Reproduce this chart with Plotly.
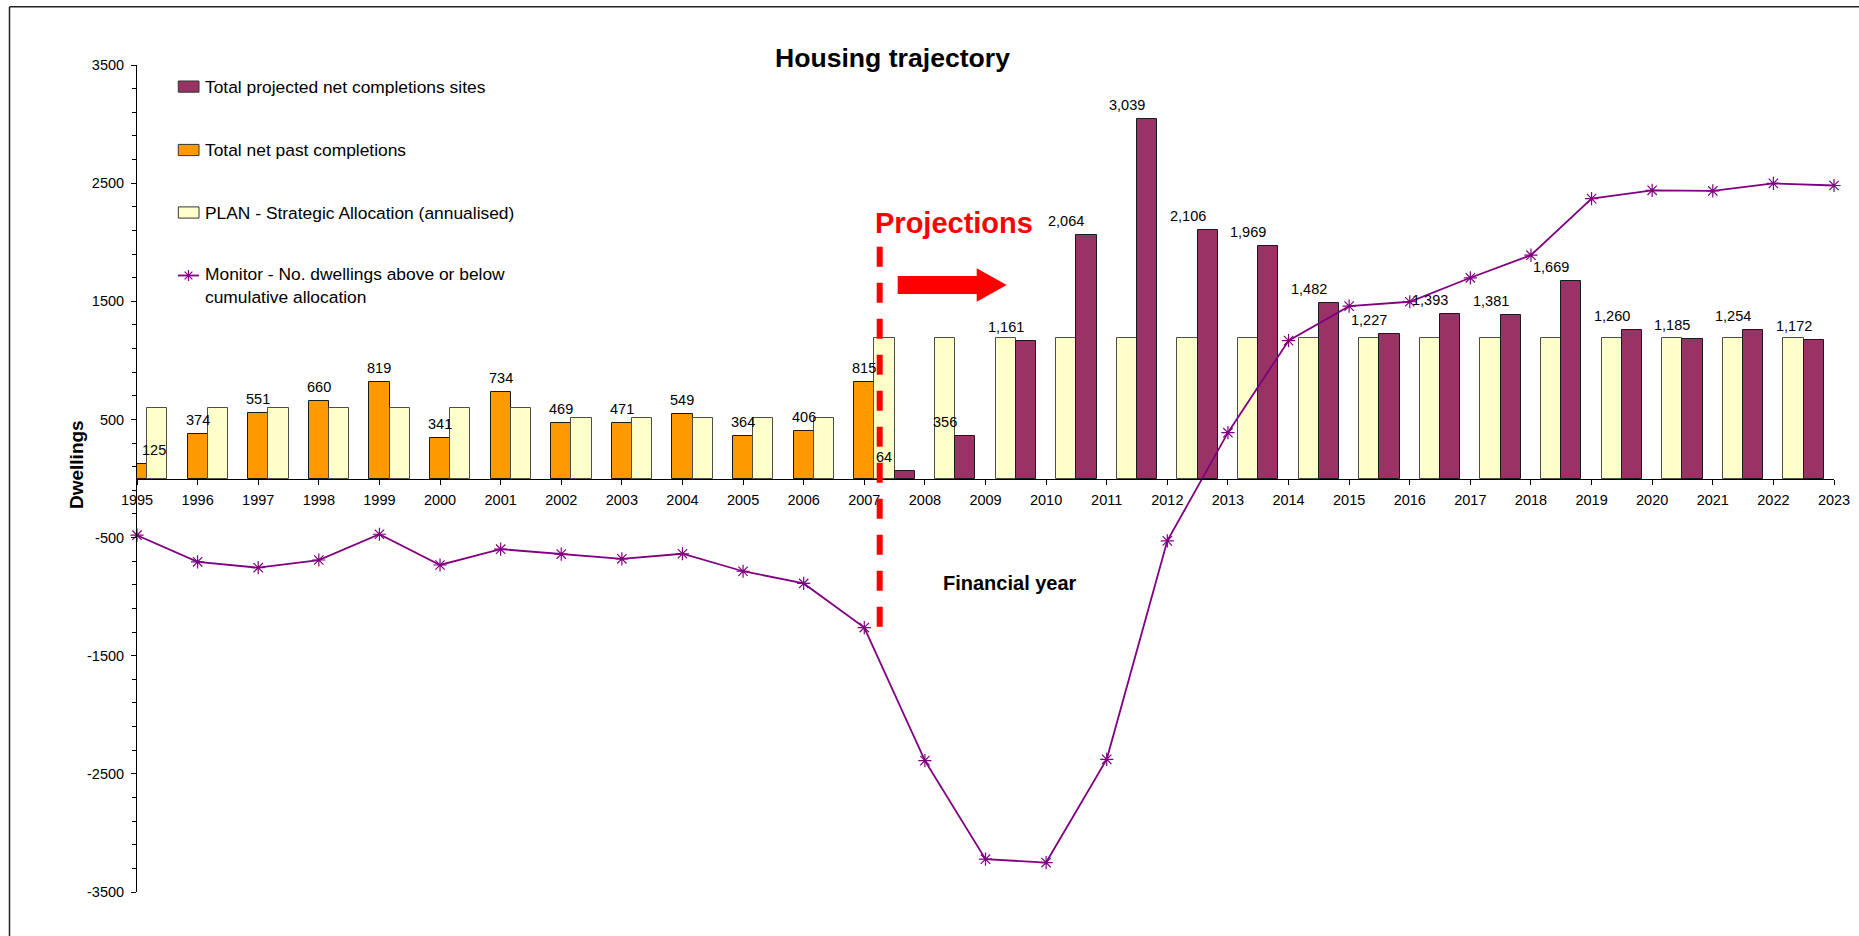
import plotly.graph_objects as go

# ---- data -------------------------------------------------------------
years = list(range(1995, 2023))            # bar categories (financial years)
monitor_years = list(range(1995, 2024))    # monitor is plotted on every tick
tick_years = list(range(1995, 2024))
y_ticks = [-3500, -2500, -1500, -500, 500, 1500, 2500, 3500]

past_completions = [125, 374, 551, 660, 819, 341, 734, 469, 471, 549, 364, 406, 815,
                    None, None, None, None, None, None, None, None, None, None, None,
                    None, None, None, None]

plan_allocation = [600, 600, 600, 600, 600, 600, 600, 510, 510, 510, 510, 510,
                   1190, 1190, 1190, 1190, 1190, 1190, 1190, 1190, 1190, 1190, 1190,
                   1190, 1190, 1190, 1190, 1190]

projected_completions = [None, None, None, None, None, None, None, None, None, None,
                         None, None, 64, 356, 1161, 2064, 3039, 2106, 1969, 1482,
                         1227, 1393, 1381, 1669, 1260, 1185, 1254, 1172]

monitor = [-480, -705, -755, -690, -472, -732, -598, -640, -680, -637, -785, -888,
           -1262, -2388, -3222, -3251, -2377, -528, 388, 1167, 1459, 1496, 1699,
           1890, 2369, 2439, 2434, 2498, 2480]

# ---- styling ----------------------------------------------------------
FONT = "Liberation Sans, Arial, sans-serif"
ORANGE = "#FF9900"
CREAM = "#FFFFCC"
PLUM = "#993366"
MONITOR = "#800080"
RED = "#FF0000"

W, H = 1859, 936
L, R, T, B = 137, 25, 65, 44
PW, PH = W - L - R, H - T - B


def px(x):
    """pixel column -> paper x"""
    return (x - L) / PW


def py(y):
    """pixel row -> paper y"""
    return 1 - (y - T) / PH


SLOT = 1 / 3  # each category holds three adjacent bar slots

fig = go.Figure()

fig.add_trace(go.Bar(
    x=years, y=past_completions, width=SLOT, offset=-SLOT / 2,
    marker=dict(color=ORANGE, line=dict(color="#1a1a1a", width=1)),
    name="Total net past completions", hoverinfo="x+y"))

fig.add_trace(go.Bar(
    x=years, y=plan_allocation, width=SLOT, offset=SLOT / 2,
    marker=dict(color=CREAM, line=dict(color="#4d4d4d", width=1)),
    name="PLAN - Strategic Allocation (annualised)", hoverinfo="x+y"))

fig.add_trace(go.Bar(
    x=years, y=projected_completions, width=SLOT, offset=1.5 * SLOT,
    marker=dict(color=PLUM, line=dict(color="#1a1a1a", width=1)),
    name="Total projected net completions sites", hoverinfo="x+y"))

fig.add_trace(go.Scatter(
    x=monitor_years, y=monitor, mode="lines+markers",
    line=dict(color=MONITOR, width=1.8),
    marker=dict(symbol="asterisk-open", size=11, color=MONITOR,
                line=dict(color=MONITOR, width=1.2)),
    name="Monitor - No. dwellings above or below cumulative allocation",
    cliponaxis=False))

annotations = []

# value labels above the completions bars
x_min = tick_years[0]
for series, centre_shift in ((past_completions, 0.0), (projected_completions, SLOT)):
    for yr, v in zip(years, series):
        if v is None:
            continue
        xc = yr + centre_shift
        if xc - SLOT / 2 < x_min:
            annotations.append(dict(x=x_min, y=v, xref="x", yref="y", text=f"{v:,}",
                                    showarrow=False, xanchor="left", yanchor="bottom",
                                    xshift=3, yshift=4,
                                    font=dict(family=FONT, size=14.5, color="#000")))
        else:
            annotations.append(dict(x=xc, y=v, xref="x", yref="y", text=f"{v:,}",
                                    showarrow=False, xanchor="center", yanchor="bottom",
                                    yshift=4,
                                    font=dict(family=FONT, size=14.5, color="#000")))

# titles
annotations += [
    dict(x=px(892.5), y=py(58), xref="paper", yref="paper", text="<b>Housing trajectory</b>",
         showarrow=False, xanchor="center", yanchor="middle",
         font=dict(family=FONT, size=26.6, color="#000")),
    dict(x=px(1010), y=py(583), xref="paper", yref="paper", text="<b>Financial year</b>",
         showarrow=False, xanchor="center", yanchor="middle",
         font=dict(family=FONT, size=20, color="#000")),
    dict(x=px(76), y=py(465), xref="paper", yref="paper", text="<b>Dwellings</b>",
         showarrow=False, xanchor="center", yanchor="middle", textangle=-90,
         font=dict(family=FONT, size=19, color="#000")),
    dict(x=px(954), y=py(223), xref="paper", yref="paper", text="<b>Projections</b>",
         showarrow=False, xanchor="center", yanchor="middle",
         font=dict(family=FONT, size=29, color=RED)),
]

# legend block
legend_rows = [
    ("Total projected net completions sites", PLUM, 86.6),
    ("Total net past completions", ORANGE, 150.0),
    ("PLAN - Strategic Allocation (annualised)", CREAM, 212.5),
]
shapes = []
for label, colour, cy in legend_rows:
    shapes.append(dict(type="rect", xref="paper", yref="paper",
                       x0=px(178.3), x1=px(199), y0=py(cy - 5.6), y1=py(cy + 5.6),
                       fillcolor=colour, line=dict(color="#333", width=1)))
    annotations.append(dict(x=px(202.5), y=py(cy), xref="paper", yref="paper", text=label,
                            showarrow=False, xanchor="left", yanchor="middle",
                            font=dict(family=FONT, size=17.4, color="#000")))

my = 275.5
mx = 188.5
r = 5.5
d = r * 0.7071
shapes.append(dict(type="line", xref="paper", yref="paper",
                   x0=px(178), x1=px(199), y0=py(my), y1=py(my),
                   line=dict(color=MONITOR, width=1.8)))
star = (f"M{px(mx)},{py(my - r)} L{px(mx)},{py(my + r)} "
        f"M{px(mx - d)},{py(my - d)} L{px(mx + d)},{py(my + d)} "
        f"M{px(mx - d)},{py(my + d)} L{px(mx + d)},{py(my - d)}")
shapes.append(dict(type="path", xref="paper", yref="paper", path=star,
                   line=dict(color=MONITOR, width=1.2)))
annotations.append(dict(x=px(202.5), y=py(285.8), xref="paper", yref="paper",
                        text="Monitor - No. dwellings above or below<br>cumulative allocation",
                        showarrow=False, xanchor="left", yanchor="middle", align="left",
                        font=dict(family=FONT, size=17.4, color="#000")))

# chart-area frame (left and top edges)
shapes.append(dict(type="line", xref="paper", yref="paper", x0=px(9.5), x1=px(9.5),
                   y0=py(6.7), y1=py(H + 20), line=dict(color="#222", width=1.5)))
shapes.append(dict(type="line", xref="paper", yref="paper", x0=px(9.5), x1=px(W + 20),
                   y0=py(6.7), y1=py(6.7), line=dict(color="#222", width=1.5)))

# start of projections: dashed divider and arrow
shapes.append(dict(type="line", xref="paper", yref="paper", x0=px(879.7), x1=px(879.7),
                   y0=py(246.7), y1=py(641), line=dict(color=RED, width=6, dash="20px,16px")))
arrow_pts = [(897.7, 276), (976.7, 276), (976.7, 268.3), (1006.7, 285),
             (976.7, 301.7), (976.7, 294), (897.7, 294)]
arrow_path = "M" + " L".join(f"{px(a)},{py(b)}" for a, b in arrow_pts) + " Z"
shapes.append(dict(type="path", xref="paper", yref="paper", path=arrow_path,
                   fillcolor=RED, line=dict(width=0)))

fig.update_layout(
    width=W, height=H,
    margin=dict(l=L, r=R, t=T, b=B, autoexpand=False),
    paper_bgcolor="white", plot_bgcolor="white",
    barmode="overlay", bargap=0,
    showlegend=False,
    font=dict(family=FONT, color="#000"),
    annotations=annotations,
    shapes=shapes,
    xaxis=dict(
        range=[tick_years[0], tick_years[-1]], tickmode="array", tickvals=tick_years,
        ticktext=[str(t) for t in tick_years],
        anchor="free", position=0.5,
        showline=True, linecolor="#000", linewidth=1,
        ticks="outside", ticklen=5, tickcolor="#000", tickwidth=1,
        ticklabelstandoff=3,
        showgrid=False, zeroline=False, automargin=False,
        tickfont=dict(family=FONT, size=14.5, color="#000"),
    ),
    yaxis=dict(
        range=[-3500, 3500], tickmode="array",
        tickvals=y_ticks, ticktext=[str(v) for v in y_ticks],
        showline=True, linecolor="#000", linewidth=1,
        ticks="outside", ticklen=5, tickcolor="#000", tickwidth=1,
        minor=dict(ticks="outside", ticklen=4, dtick=200, tick0=-3500,
                   tickcolor="#000", showgrid=False),
        ticklabelstandoff=4,
        showgrid=False, zeroline=False, automargin=False,
        tickfont=dict(family=FONT, size=14.5, color="#000"),
    ),
)

fig.write_html("out.html")
